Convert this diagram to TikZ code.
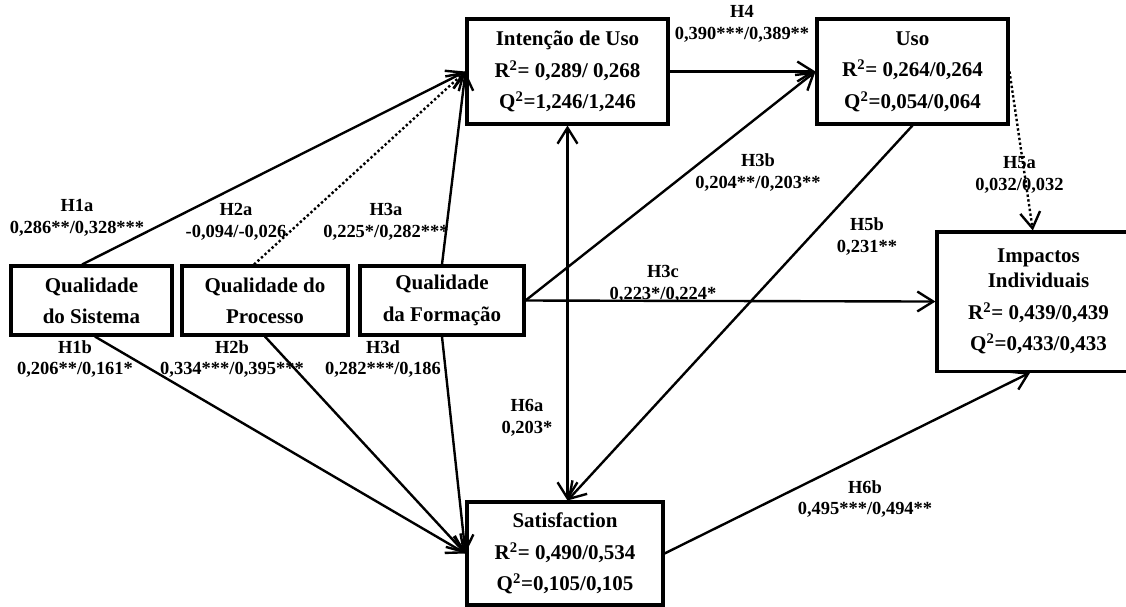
\documentclass[tikz,border=0pt]{standalone}
\usepackage{fontspec}
\setmainfont{Liberation Serif}
\usetikzlibrary{arrows.meta}

\begin{document}
\begin{tikzpicture}[
    box/.style={draw, line width=2.3pt, align=center, inner sep=0pt,
      font=\bfseries\fontsize{15.8}{23.6}\selectfont,
      execute at begin node={\rule{0pt}{17pt}}},
    hyp/.style={align=center, inner sep=0pt,
      font=\bfseries\fontsize{13.9}{16.5}\selectfont},
    tip/.tip={Straight Barb[length=12pt,width=15pt]},
    link/.style={line width=1.8pt, -tip},
    dots/.style={link, dash pattern=on 1.8pt off 1.8pt}
  ]
  \useasboundingbox (0,0) rectangle (29.792,16.034);
  % constructs
  \node [box, minimum width=4.26cm, minimum height=1.826cm] (QS) at (2.421, 8.083) {Qualidade\\do Sistema};
  \node [box, minimum width=4.392cm, minimum height=1.826cm] (QP) at (7.011, 8.083) {Qualidade do\\Processo};
  \node [box, minimum width=4.339cm, minimum height=1.826cm] (QF) at (11.694, 8.083) {Qualidade\\da Formação};
  \node [box, minimum width=5.318cm, minimum height=2.778cm] (IU) at (15.015, 14.142) {Intenção de Uso\\R\textsuperscript{2}= 0,289/ 0,268\\Q\textsuperscript{2}=1,246/1,246};
  \node [box, minimum width=5.053cm, minimum height=2.778cm] (US) at (24.143, 14.142) {Uso\\R\textsuperscript{2}= 0,264/0,264\\Q\textsuperscript{2}=0,054/0,064};
  \node [box, minimum width=5.371cm, minimum height=3.678cm] (II) at (27.477, 8.056) {Impactos\\[-4.9pt]Individuais\\R\textsuperscript{2}= 0,439/0,439\\Q\textsuperscript{2}=0,433/0,433};
  \node [box, minimum width=5.186cm, minimum height=2.725cm] (SA) at (14.949, 1.389) {Satisfaction\\R\textsuperscript{2}= 0,490/0,534\\Q\textsuperscript{2}=0,105/0,105};
  \coordinate (SAtop) at (IU.south |- SA.north);
  % paths
  \draw [link] ([xshift=-0.25cm]QS.north) -- (IU.west);
  \draw [dots] ([xshift=-0.29cm]QP.north) -- (IU.west);
  \draw [link] (QF.north) -- (IU.west);
  \draw [link] ([xshift=0.09cm]QS.south) -- (SA.west);
  \draw [link] (QP.south) -- (SA.west);
  \draw [link] (QF.south) -- (SA.west);
  \draw [link] (IU.east) -- (US.west);
  \draw [link] (QF.east) -- (US.west);
  \draw [link] (QF.east) -- (II.west);
  \draw [link, tip-tip] (IU.south) -- (SAtop);
  \draw [link] (US.south) -- (SAtop);
  \draw [dots] (US.east) -- ([xshift=-0.15cm]II.north);
  \draw [link] (SA.east) -- ([xshift=-0.22cm]II.south);
  % coefficients
  \node [hyp] (H1a) at (2.037, 10.266) {H1a\\0,286**/0,328***};
  \node [hyp] (H2a) at (6.244, 10.160) {H2a\\-0,094/-0,026};
  \node [hyp] (H3a) at (10.213, 10.173) {H3a\\0,225*/0,282***};
  \node [hyp] (H1b) at (1.984, 6.535) {H1b\\0,206**/0,161*};
  \node [hyp] (H2b) at (6.138, 6.535) {H2b\\0,334***/0,395***};
  \node [hyp] (H3d) at (10.133, 6.535) {H3d\\0,282***/0,186};
  \node [hyp] (H4) at (19.632, 15.412) {H4\\0,390***/0,389**};
  \node [hyp] (H3b) at (20.055, 11.470) {H3b\\0,204**/0,203**};
  \node [hyp] (H3c) at (17.542, 8.533) {H3c\\0,223*/0,224*};
  \node [hyp] (H5b) at (22.939, 9.776) {H5b\\0,231**};
  \node [hyp] (H5a) at (26.974, 11.417) {H5a\\0,032/0,032};
  \node [hyp] (H6a) at (13.943, 4.974) {H6a\\0,203*};
  \node [hyp] (H6b) at (22.886, 2.831) {H6b\\0,495***/0,494**};
\end{tikzpicture}
\end{document}
